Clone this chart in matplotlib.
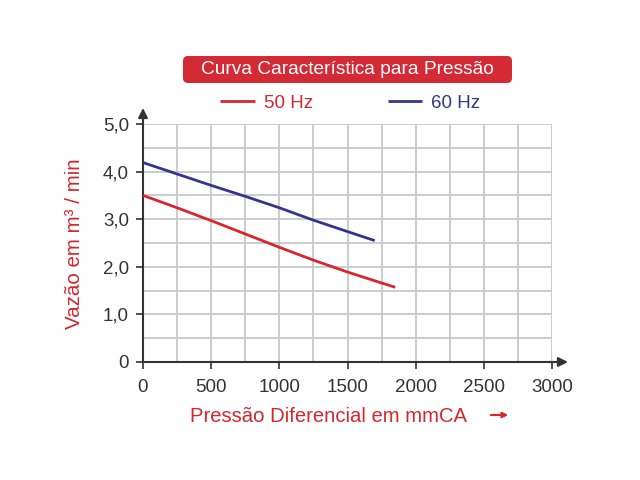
import matplotlib
matplotlib.use("Agg")
import matplotlib.pyplot as plt
from matplotlib.patches import FancyBboxPatch, FancyArrowPatch
from matplotlib.ticker import MultipleLocator, FixedLocator, FixedFormatter

plt.rcParams['font.family'] = ['Liberation Sans', 'DejaVu Sans']

# Data
pressure_60 = [0, 250, 500, 750, 1000, 1250, 1500, 1700]
flow_60 = [4.19, 3.95, 3.71, 3.48, 3.24, 2.98, 2.74, 2.55]
pressure_50 = [0, 250, 500, 750, 1000, 1250, 1500, 1750, 1850]
flow_50 = [3.50, 3.24, 2.97, 2.69, 2.41, 2.14, 1.89, 1.66, 1.57]

x_ticks = [0, 500, 1000, 1500, 2000, 2500, 3000]
x_tick_labels = ["0", "500", "1000", "1500", "2000", "2500", "3000"]
y_ticks = [0, 1, 2, 3, 4, 5]
y_tick_labels = ["0", "1,0", "2,0", "3,0", "4,0", "5,0"]

title = "Curva Característica para Pressão"
xlabel = "Pressão Diferencial em mmCA"
ylabel = "Vazão em m³ / min"
labels = ["50 Hz", "60 Hz"]

RED = "#d6262f"
BLUE = "#35358c"
TXT = "#333333"

fig = plt.figure(figsize=(6.4, 4.8), dpi=100)
ax = fig.add_axes([143/640, 1-362/480, 409/640, 238/480])

l50, = ax.plot(pressure_50, flow_50, color=RED, lw=2, solid_capstyle='butt', zorder=3)
l60, = ax.plot(pressure_60, flow_60, color=BLUE, lw=2, solid_capstyle='butt', zorder=3)

ax.set_xlim(0, 3000)
ax.set_ylim(0, 5)
ax.xaxis.set_major_locator(FixedLocator(x_ticks))
ax.xaxis.set_major_formatter(FixedFormatter(x_tick_labels))
ax.yaxis.set_major_locator(FixedLocator(y_ticks))
ax.yaxis.set_major_formatter(FixedFormatter(y_tick_labels))
ax.xaxis.set_minor_locator(MultipleLocator(250))
ax.yaxis.set_minor_locator(MultipleLocator(0.5))
ax.grid(True, which='both', color='#c8c8c8', lw=1.3, zorder=0)
ax.set_axisbelow(True)
ax.tick_params(which='minor', length=0)
ax.tick_params(which='major', length=5, width=1.2, color=TXT, labelsize=13.5, labelcolor=TXT)
ax.tick_params(axis='x', pad=7)
ax.tick_params(axis='y', pad=5)
for s in ['top', 'right']:
    ax.spines[s].set_visible(False)
for s in ['left', 'bottom']:
    ax.spines[s].set_color(TXT)
    ax.spines[s].set_linewidth(1.5)

# axis arrows
ax.annotate('', xy=(0, 1 + 16/238), xytext=(0, 0.99), xycoords='axes fraction',
            arrowprops=dict(arrowstyle='-|>', color=TXT, lw=1.5, mutation_scale=14, shrinkA=0, shrinkB=0),
            annotation_clip=False)
ax.annotate('', xy=(1 + 16/409, 0), xytext=(0.99, 0), xycoords='axes fraction',
            arrowprops=dict(arrowstyle='-|>', color=TXT, lw=1.5, mutation_scale=14, shrinkA=0, shrinkB=0),
            annotation_clip=False)

# title box
box = FancyBboxPatch((1.83, (480-83)/100), 3.29, 0.27,
                     boxstyle='round,pad=0,rounding_size=0.05',
                     fc='#d42a35', ec='none', transform=fig.dpi_scale_trans)
fig.patches.append(box)
fig.text(347/640, 1-69.5/480, title, color='white', fontsize=13.8, ha='center', va='center')

# legend
leg = fig.legend([l50, l60], labels, ncol=2, loc='center',
                 bbox_to_anchor=(350/640, 1-103/480), frameon=False,
                 fontsize=13.5, handlelength=1.85, handletextpad=0.45, columnspacing=4.0,
                 labelcolor=[RED, BLUE])

# axis labels
fig.text(75/640, 1-243.5/480, ylabel, color=RED, fontsize=14.8, rotation=90, ha='center', va='center')
fig.text(328.5/640, 1-417/480, xlabel, color=RED, fontsize=14.6, ha='center', va='center')
fig.add_artist(FancyArrowPatch((488/640, 1-415/480), (511/640, 1-415/480),
               transform=fig.transFigure, arrowstyle='-|>', color=RED, lw=1.5, mutation_scale=8))

fig.savefig('out.png', dpi=100)
